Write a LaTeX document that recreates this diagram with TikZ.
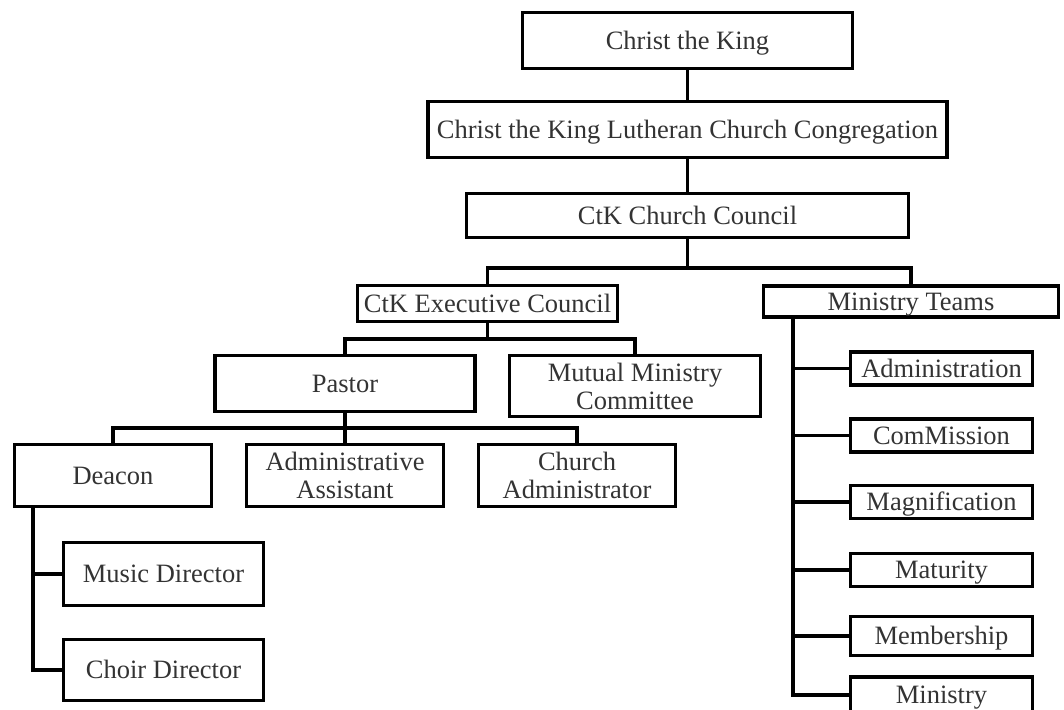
\documentclass[tikz,border=0pt]{standalone}
\usepackage{fontspec}
\setmainfont{Liberation Serif}
\usetikzlibrary{calc}

\begin{document}
\begin{tikzpicture}[x=1pt,y=-1pt,line width=3.6pt]
\clip (0,0) rectangle (1064,709);
\tikzstyle{every node} = [draw, line width=3.6pt, align=center, inner sep=0pt, font=\fontsize{26.5}{28}\selectfont, text=black!80]
\tikzstyle{one} = [text height=18pt, text depth=1pt]
\tikzstyle{team} = [one, minimum width=182pt, minimum height=33pt]
\tikzstyle{staff} = [minimum width=197pt, minimum height=62pt]
% top of the tree
\node (king) at (687.5,40.5) [one, minimum width=330pt, minimum height=56pt] {Christ the King};
\node (cong) at (687.5,129.5) [one, minimum width=519pt, minimum height=56pt] {Christ the King Lutheran Church Congregation};
\node (council) at (687.5,215.5) [one, minimum width=442pt, minimum height=44pt] {CtK Church Council};
\node (exec) at (487.5,303.5) [one, minimum width=260pt, minimum height=36pt] {CtK Executive Council};
\node (teams) at (911,301.5) [one, minimum width=295pt, minimum height=31pt] {Ministry Teams};
\node (pastor) at (345,383.5) [one, minimum width=260pt, minimum height=56pt] {Pastor};
\node (mmc) at (635,386) [minimum width=251pt, minimum height=61pt] {Mutual Ministry\\Committee};
\node (deacon) at (113,475.5) [staff, one] {Deacon};
\node (assist) at (345,475.5) [staff] {Administrative\\Assistant};
\node (chadm) at (577,475.5) [staff] {Church\\Administrator};
\node (music) at (163.5,574) [one, minimum width=200pt, minimum height=63pt] {Music Director};
\node (choir) at (163.5,670) [one, minimum width=200pt, minimum height=61pt] {Choir Director};
% ministry teams
\node (t1) at (941.5,368.5) [team] {Administration};
\node (t2) at (941.5,435.5) [team] {ComMission};
\node (t3) at (941.5,502) [team] {Magnification};
\node (t4) at (941.5,570) [team] {Maturity};
\node (t5) at (941.5,636) [team, minimum height=39pt] {Membership};
\node (t6) at (941.5,695) [team, minimum height=36pt] {Ministry};
\coordinate (b1) at (687.5,268);
\coordinate (b2) at (487.5,339);
\coordinate (b3) at (345,428);
\coordinate (ds) at ($(deacon.south west)+(20,0)$);
\coordinate (ts) at ($(teams.south west)+(31,0)$);
\draw (king.south) -- (cong.north);
\draw (cong.south) -- (council.north);
\draw (council.south) -- (b1);
\draw (exec.north) |- (b1) -| (teams.north);
\draw (exec.south) -- (b2);
\draw (pastor.north) |- (b2) -| (mmc.north);
\draw (pastor.south) -- (b3);
\draw (deacon.north) |- (b3) -| (chadm.north);
\draw (b3) -- (assist.north);
\draw (ds) |- (choir.west);
\draw (ds |- music.west) -- (music.west);
\draw (ts) |- (t6.west);
\draw (ts |- t1.west) -- (t1.west);
\draw (ts |- t2.west) -- (t2.west);
\draw (ts |- t3.west) -- (t3.west);
\draw (ts |- t4.west) -- (t4.west);
\draw (ts |- t5.west) -- (t5.west);
\end{tikzpicture}
\end{document}
